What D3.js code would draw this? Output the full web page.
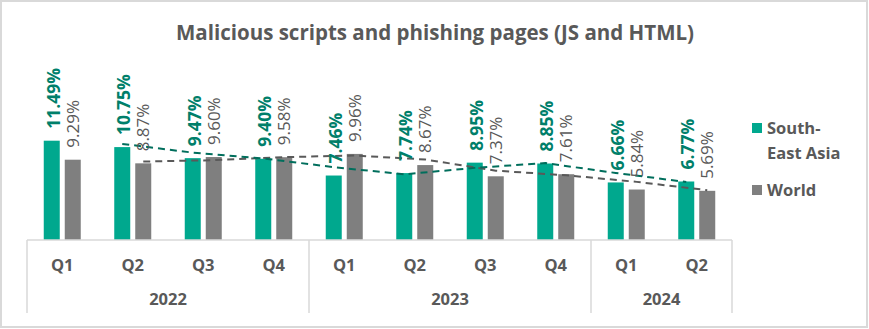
<!DOCTYPE html>
<html>
<head>
<meta charset="utf-8">
<script src="https://cdn.jsdelivr.net/npm/d3@7"></script>
<style>
  html, body { margin: 0; padding: 0; background: #fff; }
  svg { display: block; font-family: "Open Sans", "Noto Sans", sans-serif; }
</style>
</head>
<body>
<svg id="chart" width="869" height="329"></svg>
<script>
// Quarterly share of users hit by malicious scripts and phishing pages
const quarters = ["Q1", "Q2", "Q3", "Q4", "Q1", "Q2", "Q3", "Q4", "Q1", "Q2"];
const years = ["2022", "2022", "2022", "2022", "2023", "2023", "2023", "2023", "2024", "2024"];
const yearGroups = ["2022", "2023", "2024"];
const seaValues = [11.49, 10.75, 9.47, 9.40, 7.46, 7.74, 8.95, 8.85, 6.66, 6.77];
const worldValues = [9.29, 8.87, 9.60, 9.58, 9.96, 8.67, 7.37, 7.61, 5.84, 5.69];
const seriesNames = ["South-East Asia", "World"];

const colors = {
  sea: "#00a88e",
  seaLabel: "#007f6a",
  seaTrend: "#006e5c",
  world: "#7f7f7f",
  worldLabel: "#595959",
  worldTrend: "#595959",
  text: "#595959",
  axis: "#d9d9d9"
};

const svg = d3.select("#chart");
const W = 869, H = 329;

// outer frame
svg.append("rect")
  .attr("x", 1).attr("y", 1).attr("width", W - 3).attr("height", H - 3)
  .attr("fill", "#fff").attr("stroke", "#d9d9d9").attr("stroke-width", 2);

// title
svg.append("text")
  .attr("x", 435).attr("y", 40)
  .attr("text-anchor", "middle")
  .attr("font-size", 20.5).attr("font-weight", 700)
  .attr("fill", colors.text)
  .text("Malicious scripts and phishing pages (JS and HTML)");

const plot = { left: 27, right: 732, top: 119, bottom: 240 };
const idx = d3.range(quarters.length);

const x = d3.scaleBand().domain(idx).range([plot.left, plot.right]).padding(0);
const y = d3.scaleLinear().domain([0, 14]).range([plot.bottom, plot.top]);

const barW = 16, barOff = 10.5;
const cx = i => x(i) + x.bandwidth() / 2;
const seaX = i => cx(i) - barOff;
const worldX = i => cx(i) + barOff;

// bars
const g = svg.append("g");
g.selectAll("rect.sea").data(seaValues).join("rect")
  .attr("class", "sea")
  .attr("x", (d, i) => seaX(i) - barW / 2)
  .attr("y", d => y(d))
  .attr("width", barW)
  .attr("height", d => y(0) - y(d))
  .attr("fill", colors.sea);
g.selectAll("rect.world").data(worldValues).join("rect")
  .attr("class", "world")
  .attr("x", (d, i) => worldX(i) - barW / 2)
  .attr("y", d => y(d))
  .attr("width", barW)
  .attr("height", d => y(0) - y(d))
  .attr("fill", colors.world);

// two-period moving-average trendlines
function movingAvg(vals) {
  return vals.slice(1).map((v, k) => ({ i: k + 1, v: (v + vals[k]) / 2 }));
}
const seaTrend = movingAvg(seaValues);
const worldTrend = movingAvg(worldValues);

g.append("path")
  .datum(worldTrend)
  .attr("fill", "none")
  .attr("stroke", colors.worldTrend)
  .attr("stroke-width", 2)
  .attr("stroke-dasharray", "7,5")
  .attr("d", d3.line().x(d => worldX(d.i)).y(d => y(d.v)));
g.append("path")
  .datum(seaTrend)
  .attr("fill", "none")
  .attr("stroke", colors.seaTrend)
  .attr("stroke-width", 2)
  .attr("stroke-dasharray", "7,5")
  .attr("d", d3.line().x(d => seaX(d.i)).y(d => y(d.v)));

// value labels, rotated
const fmt = v => v.toFixed(2) + "%";
g.selectAll("text.seaLbl").data(seaValues).join("text")
  .attr("class", "seaLbl")
  .attr("transform", (d, i) => `translate(${seaX(i) + 1.5},${y(d) - 12}) rotate(-90)`)
  .attr("dy", "0.36em")
  .attr("font-size", 17.5).attr("font-weight", 700)
  .attr("fill", colors.seaLabel)
  .text(fmt);
g.selectAll("text.worldLbl").data(worldValues).join("text")
  .attr("class", "worldLbl")
  .attr("transform", (d, i) => `translate(${worldX(i)},${y(d) - 12}) rotate(-90)`)
  .attr("dy", "0.36em")
  .attr("font-size", 17)
  .attr("fill", colors.worldLabel)
  .text(fmt);

// multi-level category axis
const ax = svg.append("g");
ax.append("line")
  .attr("x1", plot.left).attr("x2", plot.right)
  .attr("y1", plot.bottom).attr("y2", plot.bottom)
  .attr("stroke", colors.axis).attr("stroke-width", 1.5);

const groupBounds = yearGroups.map(yr => {
  const ii = idx.filter(i => years[i] === yr);
  return { yr, x0: x(ii[0]), x1: x(ii[ii.length - 1]) + x.bandwidth() };
});
const sepX = [groupBounds[0].x0].concat(groupBounds.map(b => b.x1));
ax.selectAll("line.sep").data(sepX).join("line")
  .attr("class", "sep")
  .attr("x1", d => d).attr("x2", d => d)
  .attr("y1", plot.bottom).attr("y2", 313)
  .attr("stroke", colors.axis).attr("stroke-width", 1.5);

ax.selectAll("text.q").data(quarters).join("text")
  .attr("class", "q")
  .attr("x", (d, i) => cx(i)).attr("y", 265)
  .attr("dy", "0.35em")
  .attr("text-anchor", "middle")
  .attr("font-size", 16.5).attr("font-weight", 700)
  .attr("fill", colors.text)
  .text(d => d);

ax.selectAll("text.yr").data(groupBounds).join("text")
  .attr("class", "yr")
  .attr("x", d => (d.x0 + d.x1) / 2).attr("y", 299)
  .attr("dy", "0.35em")
  .attr("text-anchor", "middle")
  .attr("font-size", 16.5).attr("font-weight", 700)
  .attr("fill", colors.text)
  .text(d => d.yr);

// legend
const lg = svg.append("g");
const legendItems = [
  { lines: ["South-", "East Asia"], color: colors.sea, y: 128 },
  { lines: [seriesNames[1]], color: colors.world, y: 190 }
];
legendItems.forEach(it => {
  lg.append("rect")
    .attr("x", 752).attr("y", it.y - 5).attr("width", 10).attr("height", 10)
    .attr("fill", it.color);
  it.lines.forEach((ln, k) => {
    lg.append("text")
      .attr("x", 767).attr("y", it.y + k * 25)
      .attr("dy", "0.35em")
      .attr("font-size", 16.5).attr("font-weight", 700)
      .attr("fill", colors.text)
      .text(ln);
  });
});
</script>
</body>
</html>
